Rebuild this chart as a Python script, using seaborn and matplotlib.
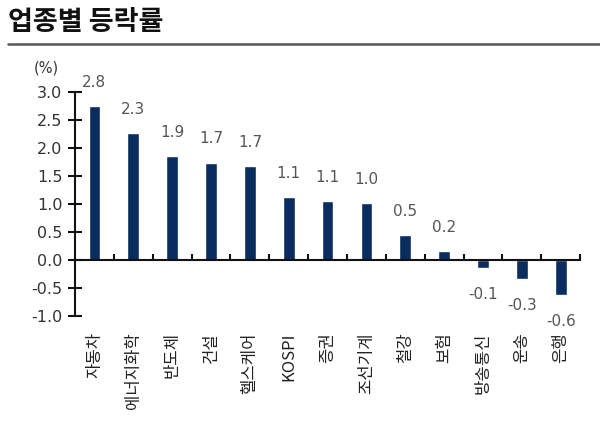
import numpy as np
import pandas as pd
import matplotlib
matplotlib.use("Agg")
import matplotlib.pyplot as plt
from matplotlib.lines import Line2D
import seaborn as sns

# ---- data ----
sectors = ["자동차", "에너지화학", "반도체", "건설", "헬스케어", "KOSPI", "증권",
           "조선기계", "철강", "보험", "방송통신", "운송", "은행"]
values = [2.75, 2.26, 1.86, 1.74, 1.67, 1.12, 1.06, 1.02, 0.45, 0.16, -0.14, -0.34, -0.63]
value_labels = ["2.8", "2.3", "1.9", "1.7", "1.7", "1.1", "1.1", "1.0", "0.5", "0.2",
                "-0.1", "-0.3", "-0.6"]
y_ticks = [-1.0, -0.5, 0.0, 0.5, 1.0, 1.5, 2.0, 2.5, 3.0]
title = "업종별 등락률"
unit = "(%)"

sns.set_style("white")
plt.rcParams["font.family"] = ["DejaVu Sans", "Noto Sans CJK KR"]
plt.rcParams["axes.unicode_minus"] = False

navy = "#0b2c5e"

fig = plt.figure(figsize=(6, 4.32), dpi=100)
ax = fig.add_axes([0.125, 0.2685, 0.842, 0.5185])

df = pd.DataFrame({"sector": sectors, "value": values})
sns.barplot(data=df, x="sector", y="value", color=navy, saturation=1,
            width=0.3, ax=ax)

ax.set_xlim(-0.5, len(sectors) - 0.5)
ax.set_ylim(min(y_ticks), max(y_ticks))
ax.set_xlabel("")
ax.set_ylabel("")

# spines
for s in ["top", "right"]:
    ax.spines[s].set_visible(False)
ax.spines["left"].set_linewidth(1.5)
ax.spines["left"].set_color("#111111")
ax.spines["bottom"].set_position(("data", 0))
ax.spines["bottom"].set_linewidth(1.5)
ax.spines["bottom"].set_color("#111111")

# y ticks
ax.set_yticks(y_ticks)
ax.set_yticklabels([f"{t:.1f}" for t in y_ticks])
ax.tick_params(axis="y", direction="inout", length=10, width=1.5, color="#111111",
               labelsize=11.5, labelcolor="#333333", pad=4, left=True)

# x ticks
ax.set_xticks(range(len(sectors)))
ax.set_xticklabels(sectors, rotation=90, family=["Noto Sans CJK KR", "DejaVu Sans"])
ax.tick_params(axis="x", which="major", length=0, pad=52, labelsize=12,
               labelcolor="#222222")
ax.set_xticks(np.arange(0.5, len(sectors), 1.0), minor=True)
ax.tick_params(axis="x", which="minor", direction="in", length=4, width=1.5,
               color="#111111", bottom=True)

# value labels
for i, (v, lab) in enumerate(zip(values, value_labels)):
    off = 17 if v >= 0 else -19
    ax.annotate(lab, xy=(i, v), xytext=(0, off), textcoords="offset points",
                ha="center", va="center", fontsize=11, color="#555555")

# unit label
fig.text(46 / 600, 1 - 68 / 432, unit, ha="center", va="center", fontsize=10.5,
         color="#333333")

# title and rule
fig.text(8 / 600, 1 - 22 / 432, title, ha="left", va="center", fontsize=19.5,
         fontweight="bold", color="#111111", family=["Noto Sans CJK KR", "DejaVu Sans"])
fig.add_artist(Line2D([8 / 600, 1.0], [1 - 44 / 432, 1 - 44 / 432],
                      transform=fig.transFigure, color="#555555", linewidth=1.8))

fig.savefig("out.png", dpi=100)
